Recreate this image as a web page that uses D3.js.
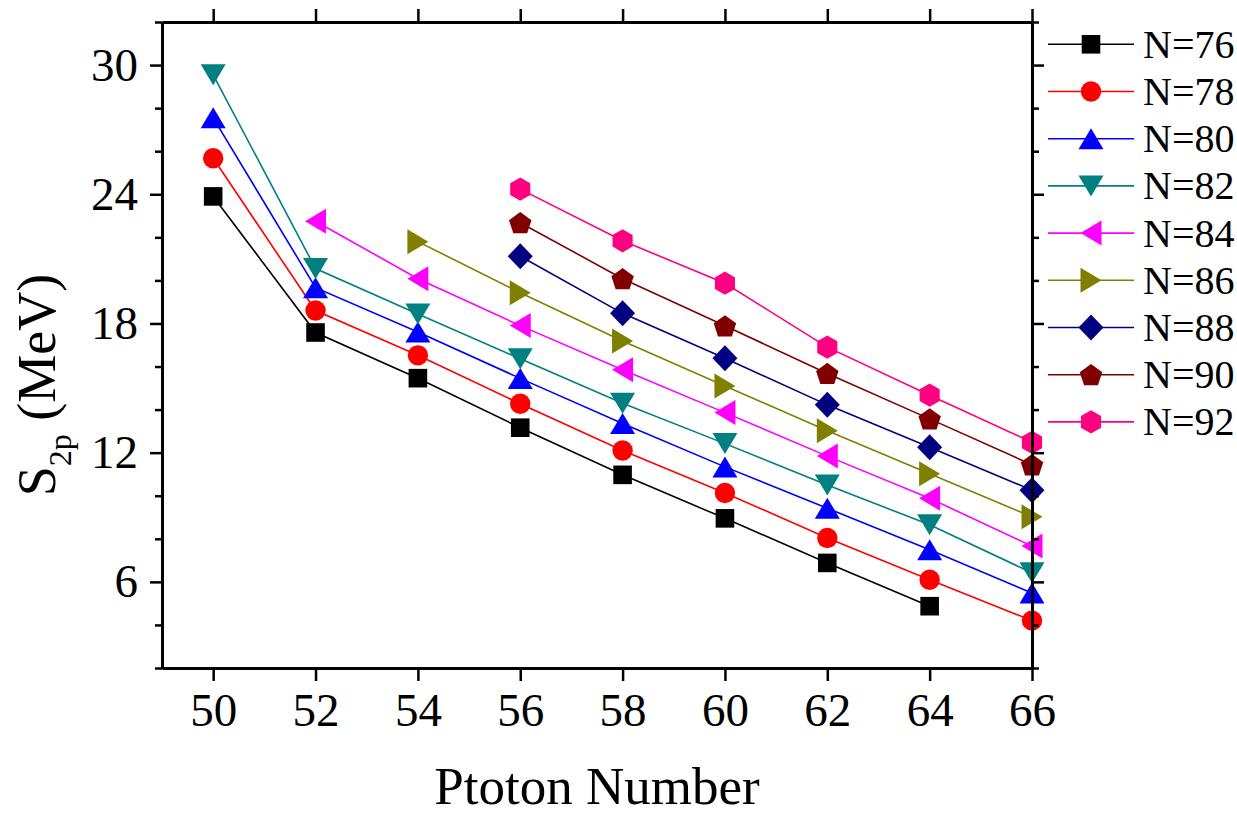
<!DOCTYPE html>
<html>
<head>
<meta charset="utf-8">
<script src="https://cdn.jsdelivr.net/npm/d3@7"></script>
<style>
  html, body { margin: 0; padding: 0; background: #fff; }
  svg { display: block; }
  text { font-family: "Liberation Serif", "Times New Roman", serif; fill: #000; }
</style>
</head>
<body>
<svg id="chart" width="1237" height="817"></svg>
<script>
// ---------------- data ----------------
const protons = [50, 52, 54, 56, 58, 60, 62, 64, 66];
const seriesNames = ["N=76", "N=78", "N=80", "N=82", "N=84", "N=86", "N=88", "N=90", "N=92"];
const n76 = [23.90, 17.58, 15.46, 13.16, 10.97, 8.95, 6.88, 4.87, null];
const n78 = [25.67, 18.60, 16.52, 14.27, 12.10, 10.13, 8.04, 6.10, 4.20];
const n80 = [27.55, 19.66, 17.60, 15.45, 13.35, 11.34, 9.42, 7.49, 5.48];
const n82 = [29.55, 20.55, 18.44, 16.36, 14.30, 12.42, 10.50, 8.65, 6.42];
const n84 = [null, 22.75, 20.08, 17.90, 15.85, 13.86, 11.84, 9.88, 7.66];
const n86 = [null, null, 21.80, 19.43, 17.19, 15.10, 13.02, 11.02, 9.02];
const n88 = [null, null, null, 21.12, 18.47, 16.38, 14.22, 12.25, 10.26];
const n90 = [null, null, null, 22.68, 20.08, 17.89, 15.68, 13.57, 11.44];
const n92 = [null, null, null, 24.24, 21.84, 19.87, 16.90, 14.67, 12.48];
const seriesValues = [n76, n78, n80, n82, n84, n86, n88, n90, n92];
const xTicks = [50, 52, 54, 56, 58, 60, 62, 64, 66];
const yMajorTicks = [6, 12, 18, 24, 30];
const yMinorTicks = [2, 4, 8, 10, 14, 16, 20, 22, 26, 28, 32];
const xTitle = "Ptoton Number";

// ---------------- styles ----------------
const colors = ["#000000", "#FF0000", "#0000FF", "#008080", "#FF00FF", "#808000", "#000080", "#800000", "#FF0080"];
const shapes = ["square", "circle", "triUp", "triDown", "triLeft", "triRight", "diamond", "pentagon", "hexagon"];

const W = 1237, H = 817;
const plot = { left: 162, right: 1032, top: 22, bottom: 668 };

const svg = d3.select("#chart");
const x = d3.scaleLinear().domain([49, 66]).range([plot.left, plot.right]);
const y = d3.scaleLinear().domain([2, 32]).range([plot.bottom, plot.top]);

function poly(pts) { return "M" + pts.map(p => p[0].toFixed(2) + "," + p[1].toFixed(2)).join("L") + "Z"; }
function shapePath(type) {
  switch (type) {
    case "square": { const s = 9.3; return poly([[-s,-s],[s,-s],[s,s],[-s,s]]); }
    case "circle": return d3.symbol(d3.symbolCircle, Math.PI * 10.2 * 10.2)();
    case "triUp": return poly([[0,-10.5],[12.5,10.5],[-12.5,10.5]]);
    case "triDown": return poly([[0,10.5],[12.5,-10.5],[-12.5,-10.5]]);
    case "triLeft": return poly([[-10.5,0],[10.5,-12.5],[10.5,12.5]]);
    case "triRight": return poly([[10.5,0],[-10.5,-12.5],[-10.5,12.5]]);
    case "diamond": return poly([[0,-13],[12.5,0],[0,13],[-12.5,0]]);
    case "pentagon": {
      const R = 11.8, off = 0.0955 * R, pts = [];
      for (let i = 0; i < 5; i++) { const a = -Math.PI / 2 + i * 2 * Math.PI / 5; pts.push([R * Math.cos(a), R * Math.sin(a) + off]); }
      return poly(pts);
    }
    case "hexagon": {
      const R = 11.6, pts = [];
      for (let i = 0; i < 6; i++) { const a = -Math.PI / 2 + i * Math.PI / 3; pts.push([R * Math.cos(a), R * Math.sin(a)]); }
      return poly(pts);
    }
  }
}

// ---------------- series ----------------
const line = d3.line()
  .defined(d => d.v !== null)
  .x(d => x(d.p))
  .y(d => y(d.v));

seriesValues.forEach((vals, i) => {
  const pts = protons.map((p, j) => ({ p: p, v: vals[j] }));
  const g = svg.append("g").attr("class", "series");
  g.append("path")
    .attr("d", line(pts))
    .attr("fill", "none")
    .attr("stroke", colors[i])
    .attr("stroke-width", 1.6);
  g.selectAll("path.mk")
    .data(pts.filter(d => d.v !== null))
    .join("path")
    .attr("class", "mk")
    .attr("d", shapePath(shapes[i]))
    .attr("transform", d => `translate(${x(d.p)},${y(d.v)})`)
    .attr("fill", colors[i]);
});

// ---------------- axes ----------------
function styleAxis(g) {
  g.select(".domain").attr("stroke", "#000").attr("stroke-width", 3);
  g.selectAll(".tick line").attr("stroke", "#000").attr("stroke-width", 2.5);
  g.selectAll(".tick text").attr("font-family", "Liberation Serif, Times New Roman, serif").attr("font-size", 47).attr("fill", "#000");
}

svg.append("g")
  .attr("transform", `translate(0,${plot.bottom})`)
  .call(d3.axisBottom(x).tickValues(xTicks).tickSize(13).tickSizeOuter(0).tickPadding(12).tickFormat(d3.format("d")))
  .call(styleAxis);

svg.append("g")
  .attr("transform", `translate(0,${plot.top})`)
  .call(d3.axisTop(x).tickValues(xTicks).tickSize(13).tickSizeOuter(0).tickFormat(""))
  .call(styleAxis);

svg.append("g")
  .attr("transform", `translate(${plot.left},0)`)
  .call(d3.axisLeft(y).tickValues(yMajorTicks).tickSize(12).tickSizeOuter(0).tickPadding(12).tickFormat(d3.format("d")))
  .call(styleAxis);
svg.append("g")
  .attr("transform", `translate(${plot.left},0)`)
  .call(d3.axisLeft(y).tickValues(yMinorTicks).tickSize(7).tickSizeOuter(0).tickFormat(""))
  .call(styleAxis);

svg.append("g")
  .attr("transform", `translate(${plot.right},0)`)
  .call(d3.axisRight(y).tickValues(yMajorTicks).tickSize(12).tickSizeOuter(0).tickFormat(""))
  .call(styleAxis);
svg.append("g")
  .attr("transform", `translate(${plot.right},0)`)
  .call(d3.axisRight(y).tickValues(yMinorTicks).tickSize(7).tickSizeOuter(0).tickFormat(""))
  .call(styleAxis);

// ---------------- titles ----------------
svg.append("text")
  .attr("x", (plot.left + plot.right) / 2)
  .attr("y", 804)
  .attr("text-anchor", "middle")
  .attr("font-size", 53)
  .text(xTitle);

const yt = svg.append("text")
  .attr("transform", "translate(55,385) rotate(-90)")
  .attr("text-anchor", "middle")
  .attr("font-size", 54);
yt.append("tspan").text("S");
yt.append("tspan").attr("font-size", 32).attr("dy", 16).text("2p");
yt.append("tspan").attr("dy", -16).text("\u00A0(MeV)");

// ---------------- legend ----------------
const legend = svg.append("g");
seriesNames.forEach((name, i) => {
  const cy = 44.3 + i * 47.2;
  const g = legend.append("g").attr("transform", `translate(0,${cy})`);
  g.append("line").attr("x1", 1048).attr("x2", 1134).attr("y1", 0).attr("y2", 0)
    .attr("stroke", colors[i]).attr("stroke-width", 1.6);
  g.append("path").attr("d", shapePath(shapes[i])).attr("transform", "translate(1091,0)").attr("fill", colors[i]);
  g.append("text").attr("x", 1143).attr("y", 13.5).attr("font-size", 40).text(name);
});
</script>
</body>
</html>
